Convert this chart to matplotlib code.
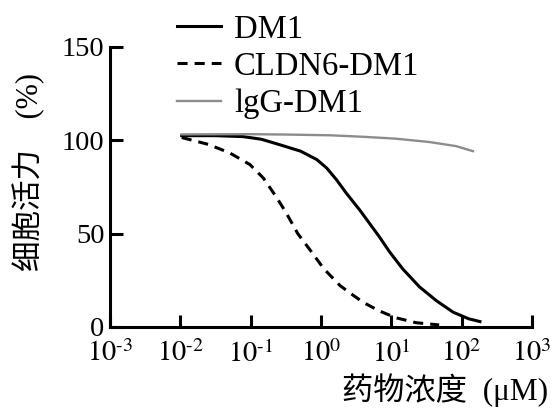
import numpy as np
import matplotlib
matplotlib.use("Agg")
import matplotlib.pyplot as plt

plt.rcParams['font.family'] = ['Liberation Serif', 'DejaVu Serif']
plt.rcParams['mathtext.fontset'] = 'stix'

# 读图得到的数据 (log10 浓度, 细胞活力%)
dm1_logc = [-1.98, -1.5, -1.11, -0.85, -0.6, -0.29, -0.06, 0.08, 0.22, 0.36, 0.55, 0.83,
            0.97, 1.16, 1.4, 1.64, 1.88, 2.1, 2.26]
dm1_val = [102.5, 102.5, 102, 100.6, 97.8, 94.2, 89.7, 85.2, 78.9, 71.7, 62.7, 48.3,
           40.5, 31.2, 21.5, 14.1, 7.9, 4.4, 2.9]

cldn6_logc = [-1.98, -1.6, -1.3, -1.01, -0.82, -0.64, -0.5, -0.33, -0.15, 0.04, 0.27, 0.45, 0.6, 0.83,
              1.06, 1.35, 1.68]
cldn6_val = [101.5, 97.8, 93.3, 87, 79.8, 69.9, 61.5, 50, 41, 31.2, 22.2, 17.2, 13.2, 8.6,
             5, 2.3, 1.1]

igg_logc = [-1.98, -1.0, -0.5, 0.13, 0.6, 1.06, 1.54, 1.92, 2.16]
igg_val = [103.2, 103.3, 103.1, 102.7, 101.9, 100.9, 99.1, 96.9, 94.2]

xticks = [1e-3, 1e-2, 1e-1, 1e0, 1e1, 1e2, 1e3]
xtick_labels = ['$10^{\\text{-}3}$', '$10^{\\text{-}2}$', '$10^{\\text{-}1}$', '$10^{0}$',
                '$10^{1}$', '$10^{2}$', '$10^{3}$']
yticks = [0, 50, 100, 150]

fig = plt.figure(figsize=(5.56, 4.09), dpi=100)
ax = fig.add_axes([110/556, 1-327/409, 422/556, 280/409])

ax.plot(10**np.array(dm1_logc), dm1_val, color='black', lw=2.2, label='DM1')
ax.plot(10**np.array(cldn6_logc), cldn6_val, color='black', lw=2.2, linestyle=(0, (3.3, 2.3)), label='CLDN6-DM1')
ax.plot(10**np.array(igg_logc), igg_val, color='#8c8c8c', lw=1.7, label='lgG-DM1')

ax.set_xscale('log')
ax.set_xlim(1e-3, 1e3)
ax.set_ylim(0, 150)
ax.set_xticks(xticks)
ax.set_xticklabels(xtick_labels)
ax.minorticks_off()
ax.set_yticks(yticks)

for s in ['top', 'right']:
    ax.spines[s].set_visible(False)
for s in ['left', 'bottom']:
    ax.spines[s].set_linewidth(2.2)
    ax.spines[s].set_capstyle('projecting')
ax.tick_params(axis='y', direction='in', length=9.5, width=2.2, labelsize=20.5, pad=4)
ax.tick_params(axis='x', direction='in', length=9, width=2.2, labelsize=20.5, pad=9.5)

cjk = ['Liberation Serif', 'Noto Sans CJK SC']
ax.set_ylabel('细胞活力\u3000(%)', family=cjk, fontsize=22, va='center')
ax.yaxis.set_label_coords(-0.192, 0.554)
ax.set_xlabel('药物浓度  (μM)', family=cjk, fontsize=22.5, ha='right', va='center')
ax.xaxis.set_label_coords(1.038, -0.225)

leg = ax.legend(loc='upper left', bbox_to_anchor=(177/556, 1-14/409), bbox_transform=fig.transFigure,
                frameon=False, fontsize=23.5, handlelength=1.35, handletextpad=0.4,
                labelspacing=0.21, borderpad=0, borderaxespad=0)

fig.savefig('out.png', dpi=100)
